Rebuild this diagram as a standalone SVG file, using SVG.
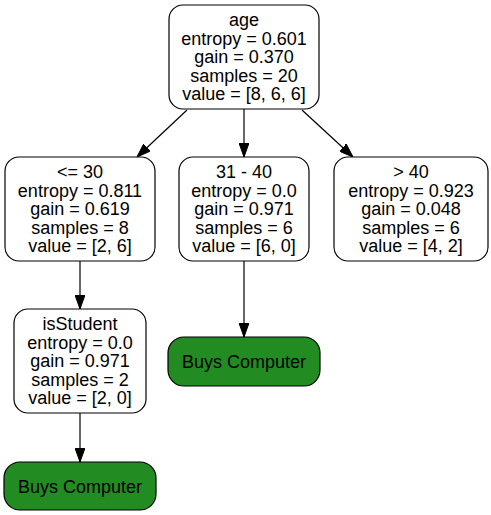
<svg xmlns="http://www.w3.org/2000/svg" width="491" height="515" viewBox="0 0 491 515">
<style>
.n{fill:#ffffff;stroke:#000000;stroke-width:1.2}
.g{fill:#228b22;stroke:#000000;stroke-width:1.2}
text{font-family:"Liberation Sans",Arial,sans-serif;font-size:18px;fill:#000000;text-anchor:middle}
.e{stroke:#000000;stroke-width:1.2;fill:none;marker-end:url(#arr)}
</style>
<defs>
<marker id="arr" markerWidth="14" markerHeight="10" refX="14" refY="5" orient="auto" markerUnits="userSpaceOnUse">
<path d="M0,0 L14,5 L0,10 Z" fill="#000000" stroke="#000000" stroke-width="1"/>
</marker>
</defs>
<rect width="491" height="515" fill="#ffffff"/>
<g id="connectors">
<line class="e" x1="187" y1="110" x2="137" y2="157"/>
<line class="e" x1="244" y1="109" x2="244" y2="157"/>
<line class="e" x1="302" y1="110" x2="353" y2="157"/>
<line class="e" x1="80" y1="261" x2="80" y2="309"/>
<line class="e" x1="244" y1="261" x2="244" y2="337"/>
<line class="e" x1="80" y1="413" x2="80" y2="462"/>
</g>
<g id="age">
<rect class="n" x="169" y="5" width="150" height="104" rx="14"/>
<text x="244" y="26">age</text>
<text x="244" y="44.6">entropy = 0.601</text>
<text x="244" y="63.2">gain = 0.370</text>
<text x="244" y="81.8">samples = 20</text>
<text x="244" y="100.4">value = [8, 6, 6]</text>
</g>
<g id="le30">
<rect class="n" x="5" y="157" width="150" height="104" rx="14"/>
<text x="80" y="178">&lt;= 30</text>
<text x="80" y="196.6">entropy = 0.811</text>
<text x="80" y="215.2">gain = 0.619</text>
<text x="80" y="233.8">samples = 8</text>
<text x="80" y="252.4">value = [2, 6]</text>
</g>
<g id="r31_40">
<rect class="n" x="179" y="157" width="130" height="104" rx="14"/>
<text x="244" y="178">31 - 40</text>
<text x="244" y="196.6">entropy = 0.0</text>
<text x="244" y="215.2">gain = 0.971</text>
<text x="244" y="233.8">samples = 6</text>
<text x="244" y="252.4">value = [6, 0]</text>
</g>
<g id="gt40">
<rect class="n" x="334" y="157" width="154" height="104" rx="14"/>
<text x="411" y="178">&gt; 40</text>
<text x="411" y="196.6">entropy = 0.923</text>
<text x="411" y="215.2">gain = 0.048</text>
<text x="411" y="233.8">samples = 6</text>
<text x="411" y="252.4">value = [4, 2]</text>
</g>
<g id="isStudent">
<rect class="n" x="14" y="309" width="132" height="104" rx="14"/>
<text x="80" y="330">isStudent</text>
<text x="80" y="348.6">entropy = 0.0</text>
<text x="80" y="367.2">gain = 0.971</text>
<text x="80" y="385.8">samples = 2</text>
<text x="80" y="404.4">value = [2, 0]</text>
</g>
<g id="buys1">
<rect class="g" x="168" y="337" width="152" height="49" rx="16"/>
<text x="244" y="368">Buys Computer</text>
</g>
<g id="buys2">
<rect class="g" x="4" y="462" width="152" height="48" rx="16"/>
<text x="80" y="492.5">Buys Computer</text>
</g>
</svg>
